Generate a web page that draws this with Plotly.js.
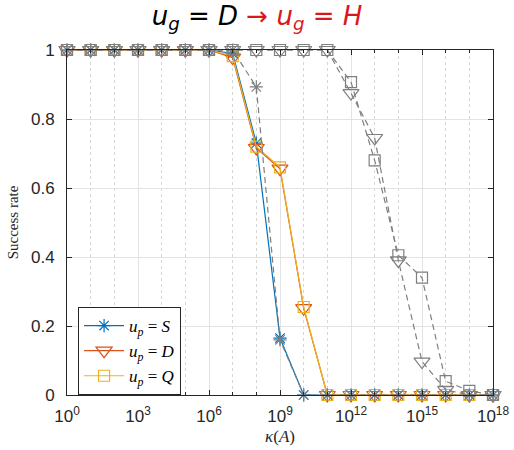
<!DOCTYPE html>
<html>
<head>
<meta charset="utf-8">
<script src="https://cdn.plot.ly/plotly-3.0.1.min.js"></script>
<style>html,body{margin:0;padding:0;background:#fff;}#chart{width:514px;height:450px;}</style>
</head>
<body>
<div id="chart"></div>
<script>
// kappa(A) values (x)
const kappa = [1e0,1e1,1e2,1e3,1e4,1e5,1e6,1e7,1e8,1e9,1e10,1e11,1e12,1e13,1e14,1e15,1e16,1e17,1e18];
// u_g = D (coloured)
const sD = [1,1,1,1,1,1,1,0.99,0.73,0.165,0,0,0,0,0,0,0,0,0];
const dD = [1,1,1,1,1,1,1,0.978,0.716,0.656,0.252,0,0,0,0,0,0,0,0];
const qD = [1,1,1,1,1,1,1,0.982,0.72,0.66,0.255,0,0,0,0,0,0,0,0];
// u_g = H (grey, dashed)
const sH = [1,1,1,1,1,1,1,1,0.893,0.16,0,0,0,0,0,0,0,0,0];
const dH = [1,1,1,1,1,1,1,1,1,1,1,1,0.875,0.745,0.39,0.097,0.015,0,0];
const qH = [1,1,1,1,1,1,1,1,1,1,1,1,0.907,0.68,0.405,0.34,0.04,0.012,0];

const majorTicks = [1e0,1e3,1e6,1e9,1e12,1e15,1e18];
const majorText = ['10<sup>0</sup>','10<sup>3</sup>','10<sup>6</sup>','10<sup>9</sup>','10<sup>12</sup>','10<sup>15</sup>','10<sup>18</sup>'];
const minorTicks = [1e1,1e2,1e4,1e5,1e7,1e8,1e10,1e11,1e13,1e14,1e16,1e17];
const yTicks = [0,0.2,0.4,0.6,0.8,1];
const yText = ['0','0.2','0.4','0.6','0.8','1'];

const blue = '#0072BD', red = '#D95319', yellow = '#EDB120', grey = '#7f7f7f';

function tr(y, name, color, symbol, size, dash, show) {
  return {
    x: kappa, y: y, name: name, type: 'scatter', mode: 'lines+markers',
    cliponaxis: false, showlegend: show,
    line: {color: color, width: 1.2, dash: dash},
    marker: {symbol: symbol, size: size, color: color, line: {color: color, width: 1.2}}
  };
}

const data = [
  tr(sD, '<i>u</i><sub><i>p</i></sub> = <i>S</i>', blue, 'asterisk-open', 11, 'solid', true),
  tr(dD, '<i>u</i><sub><i>p</i></sub> = <i>D</i>', red, 'triangle-down-open', 14, 'solid', true),
  tr(qD, '<i>u</i><sub><i>p</i></sub> = <i>Q</i>', yellow, 'square-open', 11, 'solid', true),
  tr(sH, 'S H', grey, 'asterisk-open', 11, '6px,4px', false),
  tr(dH, 'D H', grey, 'triangle-down-open', 14, '6px,4px', false),
  tr(qH, 'Q H', grey, 'square-open', 11, '6px,4px', false)
];

const axisCol = '#262626';
const layout = {
  width: 514, height: 450,
  margin: {l: 67, r: 21, t: 50, b: 55},
  paper_bgcolor: '#fff', plot_bgcolor: '#fff',
  showlegend: true,
  title: {
    text: '<i>u</i><sub><i>g</i></sub> = <i>D</i> <span style="color:#d7191c">→ <i>u</i><sub><i>g</i></sub> = <i>H</i></span>',
    font: {family: 'DejaVu Sans', size: 26, color: '#000'},
    x: 0.5, xref: 'container', xanchor: 'center', y: 0.985, yref: 'container', yanchor: 'top'
  },
  xaxis: {
    type: 'log', range: [0, 18],
    tickvals: majorTicks, ticktext: majorText,
    ticks: 'inside', ticklen: 5, tickcolor: axisCol, tickwidth: 1,
    ticklabelstandoff: 6,
    showline: true, linecolor: axisCol, linewidth: 1, mirror: 'ticks',
    showgrid: true, gridcolor: '#e3e3e3', gridwidth: 1,
    zeroline: false,
    tickfont: {family: 'Liberation Sans', size: 17, color: axisCol},
    minor: {tickvals: minorTicks, ticks: 'inside', ticklen: 3, tickcolor: axisCol, showgrid: true, gridcolor: '#d6d6d6', griddash: 'dot', gridwidth: 1},
    title: {text: '<i>κ</i>(<i>A</i>)', font: {family: 'Liberation Serif', size: 17, color: axisCol}, standoff: 4}
  },
  yaxis: {
    range: [0, 1],
    tickvals: yTicks, ticktext: yText,
    ticks: 'inside', ticklen: 5, tickcolor: axisCol, tickwidth: 1,
    ticklabelstandoff: 8,
    showline: true, linecolor: axisCol, linewidth: 1, mirror: 'ticks',
    showgrid: true, gridcolor: '#e3e3e3', gridwidth: 1,
    zeroline: false,
    tickfont: {family: 'Liberation Sans', size: 17, color: axisCol},
    title: {text: 'Success rate', font: {family: 'Liberation Serif', size: 15, color: axisCol}, standoff: 8}
  },
  legend: {
    x: 0.026, y: 0.255, xanchor: 'left', yanchor: 'top',
    bgcolor: '#fff', bordercolor: axisCol, borderwidth: 1,
    font: {family: 'Liberation Serif', size: 17, color: '#000'},
    itemwidth: 40, tracegroupgap: 0
  }
};

Plotly.newPlot('chart', data, layout, {displayModeBar: false, staticPlot: true});
</script>
</body>
</html>
